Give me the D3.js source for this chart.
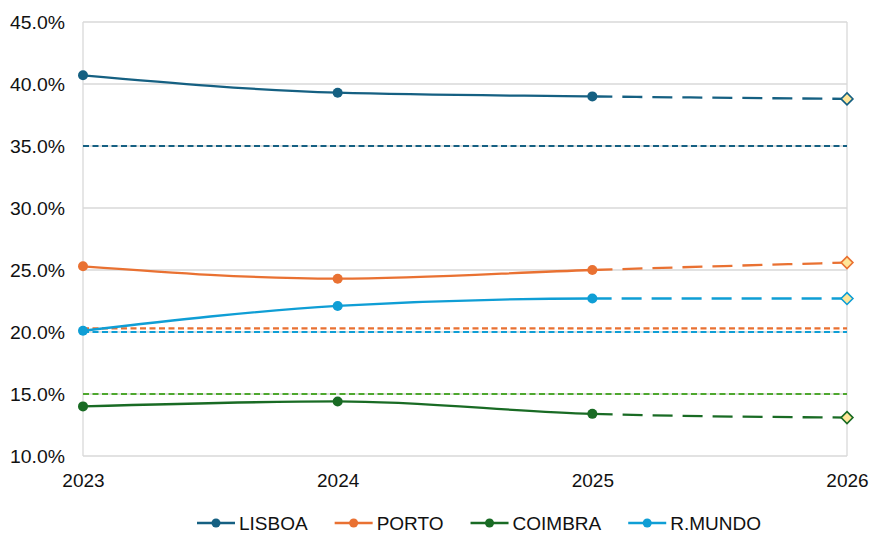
<!DOCTYPE html>
<html><head><meta charset="utf-8">
<script src="https://cdn.jsdelivr.net/npm/d3@7"></script>
<style>body{margin:0;background:#fff}svg{display:block}text{font-family:"Liberation Sans",Arial,sans-serif;fill:#111}</style>
</head><body><svg id="c" width="870" height="534"></svg>
<script>
const years = ["2023","2024","2025","2026"];
const seriesNames = ["LISBOA","PORTO","COIMBRA","R.MUNDO"];
const lisboa = [40.7, 39.3, 39.0, 38.8];
const porto = [25.3, 24.3, 25.0, 25.6];
const coimbra = [14.0, 14.4, 13.4, 13.1];
const rmundo = [20.1, 22.1, 22.7, 22.7];
const targets = [35.0, 20.3, 15.0, 20.0];
const colors = ["#156082", "#e97132", "#196b24", "#0f9ed5"];
const targetColors = ["#156082", "#e97132", "#4ea72e", "#0f9ed5"];
const yTicks = [10, 15, 20, 25, 30, 35, 40, 45];

const values = [lisboa, porto, coimbra, rmundo];
const svg = d3.select("#c");
const m = {l:83, r:847, t:22, b:456};
const x = d3.scalePoint().domain(years).range([m.l, m.r]);
const y = d3.scaleLinear().domain([10,45]).range([m.b, m.t]);

// gridlines
svg.append("g").selectAll("line").data(yTicks).join("line")
  .attr("x1", m.l).attr("x2", m.r).attr("y1", d=>y(d)).attr("y2", d=>y(d))
  .attr("stroke", "#d9d9d9").attr("stroke-width", 1.3);
svg.append("g").selectAll("line").data([years[0], years[years.length-1]]).join("line")
  .attr("x1", d=>x(d)).attr("x2", d=>x(d)).attr("y1", m.t).attr("y2", m.b)
  .attr("stroke", "#d9d9d9").attr("stroke-width", 1.3);

// axes
const ya = svg.append("g").attr("transform", `translate(${m.l},0)`)
  .call(d3.axisLeft(y).tickValues(yTicks).tickFormat(d=>d.toFixed(1)+"%").tickSize(0).tickPadding(18));
ya.select(".domain").remove();
ya.selectAll("text").attr("font-size", 19).attr("fill","#111").attr("font-family","Liberation Sans, Arial, sans-serif")
  .attr("textLength", 55).attr("lengthAdjust","spacingAndGlyphs").attr("dy","0.35em");
const xa = svg.append("g").attr("transform", `translate(0,${m.b})`)
  .call(d3.axisBottom(x).tickSize(0).tickPadding(0));
xa.select(".domain").remove();
xa.selectAll("text").attr("font-size", 19).attr("fill","#111").attr("font-family","Liberation Sans, Arial, sans-serif")
  .attr("dy", null).attr("y", 31);

// target lines
svg.append("g").selectAll("line").data(targets).join("line")
  .attr("x1", m.l).attr("x2", m.r).attr("y1", d=>y(d)).attr("y2", d=>y(d))
  .attr("stroke", (d,i)=>targetColors[i]).attr("stroke-width", 2.2).attr("stroke-dasharray","6,3.5");

// clips
const defs = svg.append("defs");
defs.append("clipPath").attr("id","solidClip").append("rect")
  .attr("x", 0).attr("y", 0).attr("width", x("2025")).attr("height", 534);
defs.append("clipPath").attr("id","dashClip").append("rect")
  .attr("x", x("2025")).attr("y", 0).attr("width", 870).attr("height", 534);

const line = d3.line().x((d,i)=>x(years[i])).y(d=>y(d)).curve(d3.curveMonotoneX);
values.forEach((vals, s) => {
  const g = svg.append("g");
  g.append("path").attr("d", line(vals)).attr("fill","none").attr("stroke", colors[s])
    .attr("stroke-width", 2.3).attr("clip-path","url(#solidClip)");
  g.append("path").attr("d", line(vals)).attr("fill","none").attr("stroke", colors[s])
    .attr("stroke-width", 2.3).attr("stroke-dasharray","20,10")
    .attr("clip-path","url(#dashClip)");
  g.selectAll("circle").data(vals.slice(0,3)).join("circle")
    .attr("cx", (d,i)=>x(years[i])).attr("cy", d=>y(d)).attr("r", 5).attr("fill", colors[s]);
  g.append("path").attr("d", d3.symbol(d3.symbolDiamond2, 90)())
    .attr("transform", `translate(${x(years[3])},${y(vals[3])})`)
    .attr("fill", "#ffe699").attr("stroke", colors[s]).attr("stroke-width", 1.6);
});

// legend
const lg = svg.append("g").attr("transform","translate(0,523)");
let lx = 197;
seriesNames.forEach((n,i) => {
  const it = lg.append("g").attr("transform", `translate(${lx},0)`);
  it.append("line").attr("x1",0).attr("x2",38).attr("y1",0).attr("y2",0).attr("stroke",colors[i]).attr("stroke-width",2.3);
  it.append("circle").attr("cx",19).attr("cy",0).attr("r",4.5).attr("fill",colors[i]);
  const t = it.append("text").attr("x",42).attr("y",6.5).attr("font-size",19).text(n);
  const w = t.node().getComputedTextLength();
  lx += 42 + w + 27;
});
</script></body></html>
